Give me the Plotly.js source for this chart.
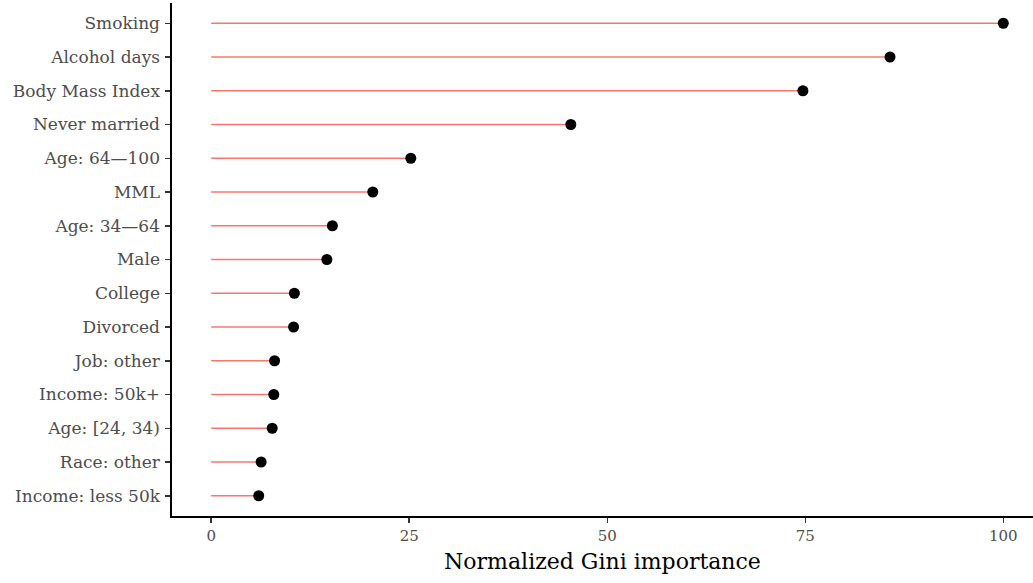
<!DOCTYPE html>
<html>
<head>
<meta charset="utf-8">
<script src="https://cdn.plot.ly/plotly-3.0.1.min.js"></script>
<style>
  html, body { margin: 0; padding: 0; background: #fff; }
  #chart { width: 1033px; height: 583px; }
</style>
</head>
<body>
<div id="chart"></div>
<script>
// Feature names, listed from least to most important (bottom to top)
const features = [
  "Income: less 50k",
  "Race: other",
  "Age: [24, 34)",
  "Income: 50k+",
  "Job: other",
  "Divorced",
  "College",
  "Male",
  "Age: 34\u201464",
  "MML",
  "Age: 64\u2014100",
  "Never married",
  "Body Mass Index",
  "Alcohol days",
  "Smoking"
];

// Normalized Gini importance of each feature
const importance = [6.0, 6.3, 7.7, 7.9, 8.0, 10.4, 10.5, 14.6, 15.3, 20.4, 25.2, 45.4, 74.7, 85.7, 100];

const xTicks = [0, 25, 50, 75, 100];

const FONT = "DejaVu Serif, serif";

// Stems: one segment per feature from zero to its importance
const stemX = [];
const stemY = [];
features.forEach((f, i) => {
  stemX.push(0, importance[i], null);
  stemY.push(f, f, null);
});

const stems = {
  type: "scatter",
  mode: "lines",
  x: stemX,
  y: stemY,
  line: { color: "#F8766D", width: 1.7 },
  hoverinfo: "skip",
  showlegend: false
};

const heads = {
  type: "scatter",
  mode: "markers",
  x: importance,
  y: features,
  marker: { color: "#000000", size: 11 },
  showlegend: false
};

const layout = {
  width: 1033,
  height: 583,
  margin: { l: 172, r: 0, t: 3, b: 67 },
  paper_bgcolor: "#ffffff",
  plot_bgcolor: "#ffffff",
  font: { family: FONT, size: 17, color: "#4D4D4D" },
  xaxis: {
    range: [-4.95, 103.75],
    tickvals: xTicks,
    ticktext: xTicks.map(String),
    ticks: "outside",
    ticklen: 5,
    tickwidth: 1.5,
    tickcolor: "#333333",
    showgrid: false,
    zeroline: false,
    showline: true,
    linecolor: "#000000",
    linewidth: 1.6,
    tickfont: { family: FONT, size: 15, color: "#4D4D4D" },
    title: {
      text: "Normalized Gini importance",
      font: { family: FONT, size: 22, color: "#000000" },
      standoff: 10
    }
  },
  yaxis: {
    type: "category",
    categoryorder: "array",
    categoryarray: features,
    range: [-0.6, features.length - 0.4],
    ticks: "outside",
    ticklen: 5,
    tickwidth: 1.5,
    tickcolor: "#333333",
    ticklabelstandoff: 2,
    showgrid: false,
    zeroline: false,
    showline: true,
    linecolor: "#000000",
    linewidth: 1.6,
    tickfont: { family: FONT, size: 17, color: "#4D4D4D" },
    automargin: false
  }
};

Plotly.newPlot("chart", [stems, heads], layout, { displayModeBar: false, staticPlot: true });
</script>
</body>
</html>
